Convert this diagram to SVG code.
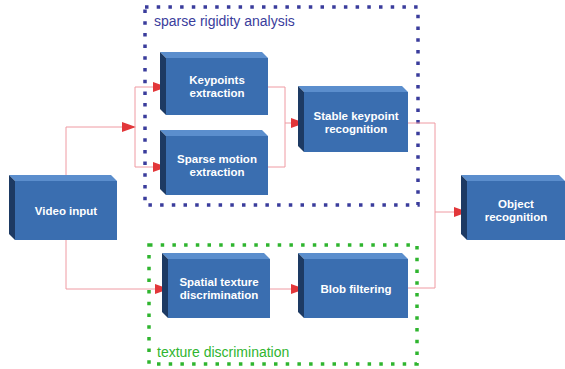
<svg xmlns="http://www.w3.org/2000/svg" width="565" height="369" viewBox="0 0 565 369">
<defs>
<marker id="arr" viewBox="0 0 14 10" refX="13" refY="5" markerWidth="14" markerHeight="10" markerUnits="userSpaceOnUse" orient="auto">
<path d="M0,0 L14,5 L0,10 Z" fill="#e2373a"/>
</marker>
</defs>
<style>
.front{fill:#3a6eb0}
.top{fill:#5b8ecd}
.side{fill:#1d3a63}
.lbl{font-family:"Liberation Sans",Arial,sans-serif;font-size:11.5px;font-weight:bold;fill:#ffffff;text-anchor:middle}
.grp{font-family:"Liberation Sans",Arial,sans-serif;font-size:14px}
.con{fill:none;stroke:#ef9aa2;stroke-width:1}
.arrow{marker-end:url(#arr)}
</style>
<rect width="565" height="369" fill="#ffffff"/>
<g id="group-sparse">
<rect x="145" y="7" width="273" height="198" fill="none" stroke="#3a3c9c" stroke-width="3.5" stroke-dasharray="3.5 8.2"/>
<text class="grp" x="154" y="26" fill="#3a3c9c">sparse rigidity analysis</text>
</g>
<g id="group-texture">
<rect x="149" y="245" width="268" height="119" fill="none" stroke="#2fb52f" stroke-width="3.5" stroke-dasharray="3.5 8.2"/>
<text class="grp" x="157" y="357" fill="#2fb52f">texture discrimination</text>
</g>
<g id="connectors">
<path class="con arrow" d="M66,181 V127 H135"/>
<path class="con" d="M135,87 V167"/>
<path class="con arrow" d="M135,87 H166"/>
<path class="con arrow" d="M135,167 H166"/>
<path class="con" d="M268,87 H285 V167 H268"/>
<path class="con arrow" d="M285,123 H304"/>
<path class="con" d="M408,123 H435 V288 H408"/>
<path class="con arrow" d="M435,212 H467"/>
<path class="con arrow" d="M66,240 V289 H168"/>
<path class="con arrow" d="M270,289 H304"/>
</g>
<g id="video-input">
<polygon class="top" points="9,175 111,175 117,181 15,181"/>
<polygon class="side" points="9,175 15,181 15,240 9,234"/>
<rect class="front" x="15" y="181" width="102" height="59"/>
<text class="lbl" x="66" y="215">Video input</text>
</g>
<g id="keypoints-extraction">
<polygon class="top" points="160,52 262,52 268,58 166,58"/>
<polygon class="side" points="160,52 166,58 166,115 160,109"/>
<rect class="front" x="166" y="58" width="102" height="57"/>
<text class="lbl" x="217" y="84">Keypoints</text>
<text class="lbl" x="217" y="97">extraction</text>
</g>
<g id="sparse-motion-extraction">
<polygon class="top" points="160,130 262,130 268,136 166,136"/>
<polygon class="side" points="160,130 166,136 166,195 160,189"/>
<rect class="front" x="166" y="136" width="102" height="59"/>
<text class="lbl" x="217" y="163">Sparse motion</text>
<text class="lbl" x="217" y="176">extraction</text>
</g>
<g id="stable-keypoint-recognition">
<polygon class="top" points="298,86 402,86 408,92 304,92"/>
<polygon class="side" points="298,86 304,92 304,152 298,146"/>
<rect class="front" x="304" y="92" width="104" height="60"/>
<text class="lbl" x="356" y="120">Stable keypoint</text>
<text class="lbl" x="356" y="133">recognition</text>
</g>
<g id="object-recognition">
<polygon class="top" points="461,175 559,175 565,181 467,181"/>
<polygon class="side" points="461,175 467,181 467,240 461,234"/>
<rect class="front" x="467" y="181" width="98" height="59"/>
<text class="lbl" x="516" y="208">Object</text>
<text class="lbl" x="516" y="221">recognition</text>
</g>
<g id="spatial-texture-discrimination">
<polygon class="top" points="162,253 264,253 270,259 168,259"/>
<polygon class="side" points="162,253 168,259 168,318 162,312"/>
<rect class="front" x="168" y="259" width="102" height="59"/>
<text class="lbl" x="219" y="286">Spatial texture</text>
<text class="lbl" x="219" y="299">discrimination</text>
</g>
<g id="blob-filtering">
<polygon class="top" points="298,253 402,253 408,259 304,259"/>
<polygon class="side" points="298,253 304,259 304,318 298,312"/>
<rect class="front" x="304" y="259" width="104" height="59"/>
<text class="lbl" x="356" y="293">Blob filtering</text>
</g>
</svg>
